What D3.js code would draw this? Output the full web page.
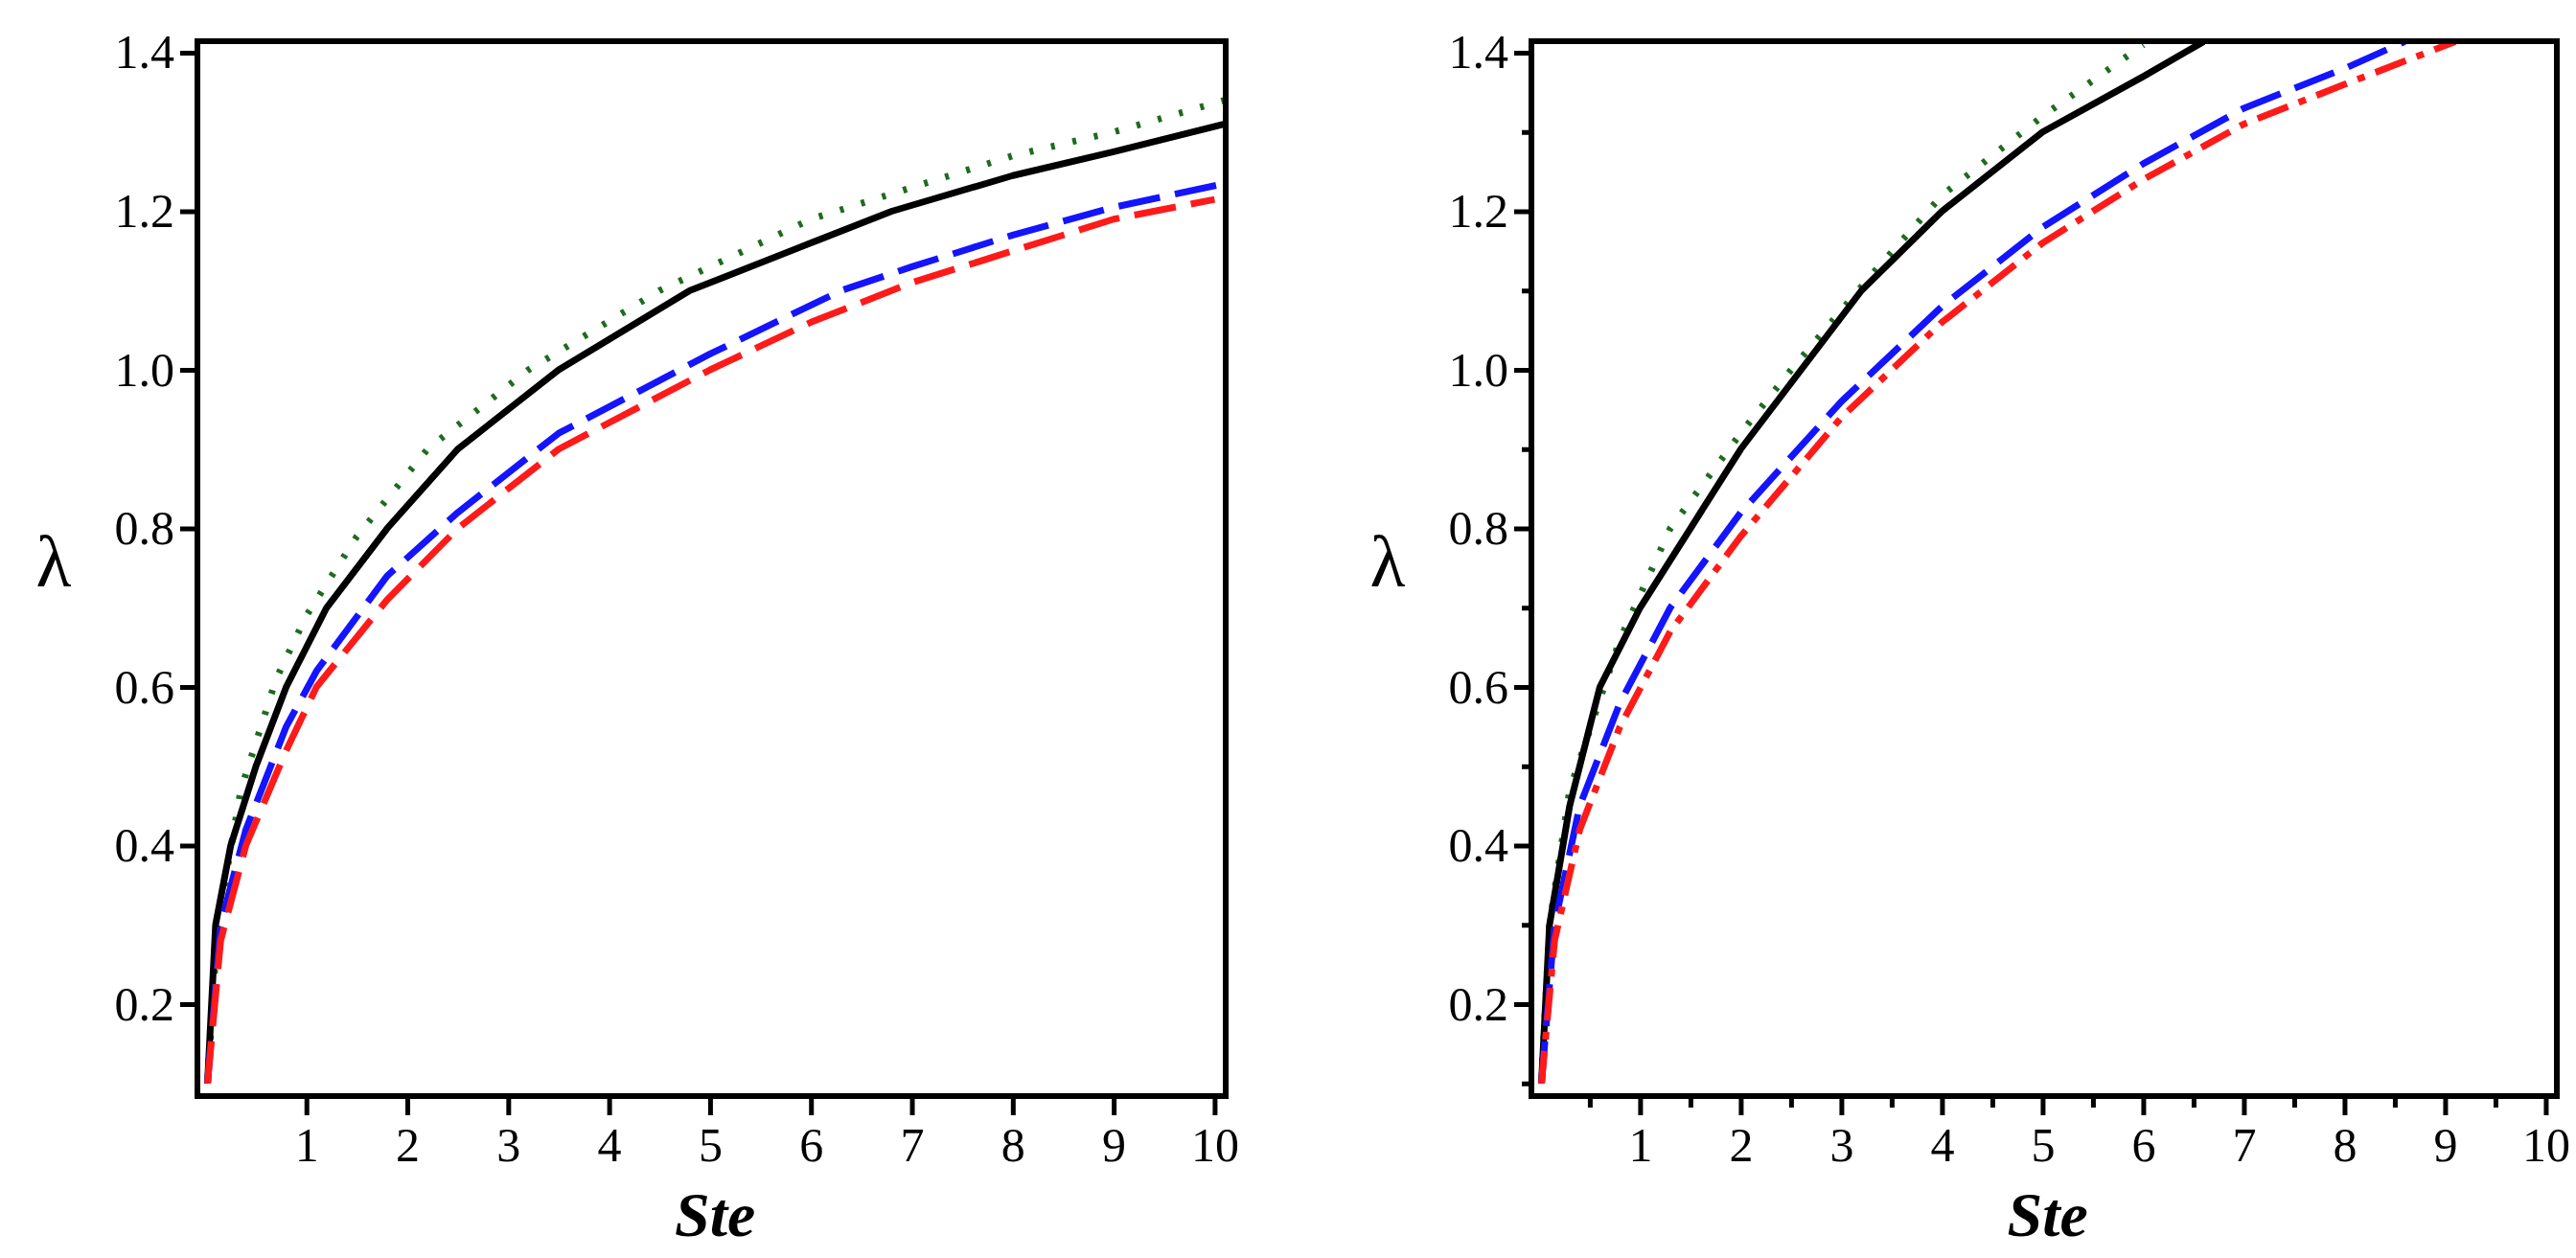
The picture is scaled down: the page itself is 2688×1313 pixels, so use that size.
<!DOCTYPE html><html><head><meta charset="utf-8"><script src="https://cdn.jsdelivr.net/npm/d3@7"></script>
<style>body{margin:0;background:#fff}svg{display:block}</style></head><body><svg id="c" width="2688" height="1313"></svg>
<script>
const xTicks=[1,2,3,4,5,6,7,8,9,10];
const yTicks=[0.2,0.4,0.6,0.8,1.0,1.2,1.4];
const L_black=[[0.02,0.1],[0.1,0.3],[0.25,0.4],[0.5,0.5],[0.8,0.6],[1.2,0.7],[1.8,0.8],[2.5,0.9],[3.5,1.0],[4.8,1.1],[6.0,1.16],[6.8,1.2],[8,1.245],[9,1.275],[10.1,1.31]];
const L_green=[[0.02,0.1],[0.12,0.3],[0.35,0.47],[0.7,0.61],[1,0.69],[1.5,0.79],[2.2,0.9],[3.2,1.0],[4.5,1.1],[6,1.19],[7,1.23],[8,1.27],[9,1.3],[10.1,1.34]];
const L_blue=[[0.02,0.1],[0.15,0.3],[0.4,0.42],[0.8,0.55],[1.1,0.62],[1.8,0.74],[2.5,0.82],[3.5,0.92],[5,1.02],[6.3,1.1],[7,1.13],[8,1.17],[9,1.205],[10.1,1.235]];
const L_red=[[0.02,0.1],[0.15,0.28],[0.4,0.4],[0.8,0.52],[1.1,0.6],[1.8,0.71],[2.5,0.8],[3.5,0.9],[5,1.0],[6,1.06],[7,1.11],[8,1.15],[9,1.19],[10,1.215]];
const R_black=[[0.02,0.1],[0.1,0.3],[0.3,0.45],[0.6,0.6],[1,0.7],[1.5,0.8],[2,0.9],[2.6,1.0],[3.2,1.1],[4,1.2],[5,1.3],[6,1.37],[6.6,1.414]];
const R_green=[[0.02,0.1],[0.1,0.3],[0.3,0.47],[0.8,0.66],[1.3,0.8],[2,0.92],[2.5,1.0],[3.3,1.12],[4,1.22],[5,1.32],[6,1.41]];
const R_blue=[[0.02,0.1],[0.15,0.3],[0.4,0.45],[0.8,0.58],[1.3,0.7],[2,0.82],[3,0.96],[4,1.08],[5,1.18],[6,1.26],[7,1.33],[8,1.38],[8.6,1.414]];
const R_red=[[0.02,0.1],[0.15,0.28],[0.4,0.42],[0.8,0.55],[1.3,0.67],[2,0.79],[3,0.94],[4,1.06],[5,1.16],[6,1.24],[7,1.31],[8,1.36],[9.1,1.414]];

const svg=d3.select("#c");
const styles={black:["#000",null],green:["#1e6b1e","4,19"],blue:["#1414ff","44,16"],red:["#ff1a1a","44,16"],redDD:["#ff1a1a","34,12,8,12"]};
function panel(id,x0,x1,minor,series){
  const top=43,bottom=1144;
  const x=d3.scaleLinear().domain([-0.08,10.11]).range([x0,x1]);
  const y=d3.scaleLinear().domain([0.084,1.4145]).range([bottom,top]);
  const g=svg.append("g");
  g.append("clipPath").attr("id",id).append("rect").attr("x",x0).attr("y",top).attr("width",x1-x0).attr("height",bottom-top);
  const line=d3.line().x(d=>x(d[0])).y(d=>y(d[1]));
  series.forEach(([data,st])=>{
    g.append("path").attr("clip-path",`url(#${id})`).attr("d",line(data)).attr("fill","none")
     .attr("stroke",st[0]).attr("stroke-width",7).attr("stroke-dasharray",st[1]).attr("stroke-linejoin","round");
  });
  g.append("rect").attr("x",x0).attr("y",top).attr("width",x1-x0).attr("height",bottom-top).attr("fill","none").attr("stroke","#000").attr("stroke-width",6);
  g.append("g").attr("transform",`translate(0,${bottom})`).call(d3.axisBottom(x).tickValues(xTicks).tickSize(20).tickPadding(12).tickFormat(d3.format("d")));
  g.append("g").attr("transform",`translate(${x0},0)`).call(d3.axisLeft(y).tickValues(yTicks).tickSize(18).tickPadding(6).tickFormat(d3.format(".1f")));
  if(minor){
    g.append("g").attr("transform",`translate(0,${bottom})`).call(d3.axisBottom(x).tickValues(d3.range(0.5,10,1)).tickSize(12).tickFormat(""));
    g.append("g").attr("transform",`translate(${x0},0)`).call(d3.axisLeft(y).tickValues(d3.range(0.1,1.41,0.2)).tickSize(10).tickFormat(""));
  }
  g.selectAll(".domain").remove();
  g.selectAll(".tick line").attr("stroke","#000").attr("stroke-width",5);
  g.selectAll(".tick text").attr("font-family","Liberation Serif").attr("font-size",50).attr("fill","#000");
  g.append("text").attr("x",x(5.05)).attr("y",1290).attr("text-anchor","middle").attr("font-family","Liberation Serif").attr("font-style","italic").attr("font-weight","bold").attr("font-size",66).text("Ste");
  g.append("text").attr("x",x0-150).attr("y",612).attr("text-anchor","middle").attr("font-family","Liberation Serif").attr("font-size",76).text("λ");
}
panel("cl",206,1279,false,[[L_green,styles.green],[L_black,styles.black],[L_blue,styles.blue],[L_red,styles.red]]);
panel("cr",1598,2668,true,[[R_green,styles.green],[R_black,styles.black],[R_blue,styles.blue],[R_red,styles.redDD]]);
</script></body></html>
